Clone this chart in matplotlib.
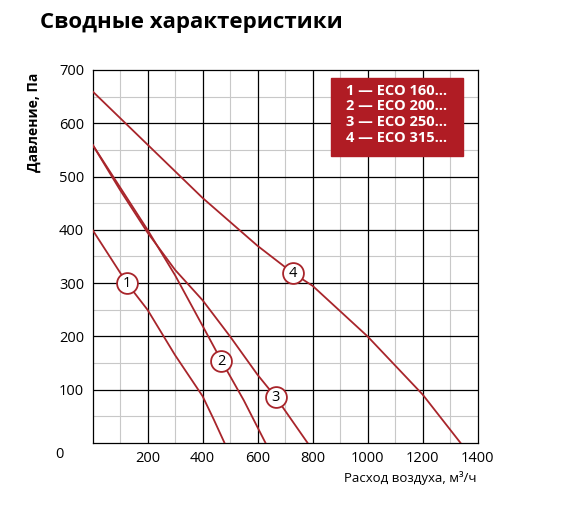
import matplotlib.pyplot as plt
import numpy as np
from matplotlib.patches import Rectangle

plt.rcParams['font.family'] = ['Open Sans', 'DejaVu Sans']

# curve data (air flow m3/h, pressure Pa)
c1_x = [0, 125, 200, 300, 400, 440, 480]
c1_y = [400, 300, 250, 165, 88, 45, 0]
c2_x = [0, 100, 200, 300, 400, 470, 550, 629]
c2_y = [560, 480, 400, 315, 220, 153, 80, 0]
c3_x = [0, 100, 200, 300, 400, 500, 600, 666, 782]
c3_y = [560, 475, 395, 325, 268, 200, 128, 86, 0]
c4_x = [0, 120, 400, 600, 728, 800, 1000, 1200, 1338]
c4_y = [660, 600, 460, 370, 319, 295, 200, 91, 0]
markers = [(125, 300, '1'), (468, 153, '2'), (666, 86, '3'), (728, 319, '4')]
legend_lines = ['1 — ECO 160…', '2 — ECO 200…', '3 — ECO 250…', '4 — ECO 315…']

red = '#a8252b'
fig = plt.figure(figsize=(5.71, 5.05), dpi=100)
ax = fig.add_axes([0.162, 0.1228, 0.6745, 0.7386])
ax.set_xlim(0, 1400)
ax.set_ylim(0, 700)

# grid
for x in range(100, 1400, 200):
    ax.axvline(x, color='#c8c8c8', lw=0.8, zorder=0)
for x in range(200, 1400, 200):
    ax.axvline(x, color='black', lw=0.9, zorder=1)
for y in range(50, 700, 100):
    ax.axhline(y, color='#c8c8c8', lw=0.8, zorder=0)
for y in range(100, 700, 100):
    ax.axhline(y, color='black', lw=0.9, zorder=1)
for s in ax.spines.values():
    s.set_linewidth(0.9)

for xs, ys in [(c1_x, c1_y), (c2_x, c2_y), (c3_x, c3_y), (c4_x, c4_y)]:
    ax.plot(xs, ys, color=red, lw=1.3, zorder=3)

for x, y, t in markers:
    ax.plot(x, y, 'o', ms=15, mfc='white', mec=red, mew=1.3, zorder=4)
    ax.text(x, y, t, ha='center', va='center', fontsize=10.5, zorder=5)

ax.add_patch(Rectangle((867, 538), 481, 147, color='#b01c24', zorder=6))
ax.text(920, 674, '\n'.join(legend_lines), color='white', fontsize=10.5,
        fontweight='bold', va='top', ha='left', linespacing=1.15, zorder=7)

ax.set_xticks(range(200, 1401, 200))
ax.set_yticks(range(100, 701, 100))
ax.tick_params(length=0, labelsize=10.5, pad=6)
ax.text(-0.085, -0.03, '0', transform=ax.transAxes, fontsize=10.5, ha='center', va='center')
ax.set_ylabel('Давление, Па', fontsize=10, fontweight='bold', labelpad=8)
ax.yaxis.set_label_coords(-0.135, 0.86)
fig.text(0.835, 0.045, 'Расход воздуха, м³/ч', fontsize=9.5, ha='right')
fig.text(0.07, 0.945, 'Сводные характеристики', fontsize=16, fontweight='bold')

fig.savefig('out.png', dpi=100)
